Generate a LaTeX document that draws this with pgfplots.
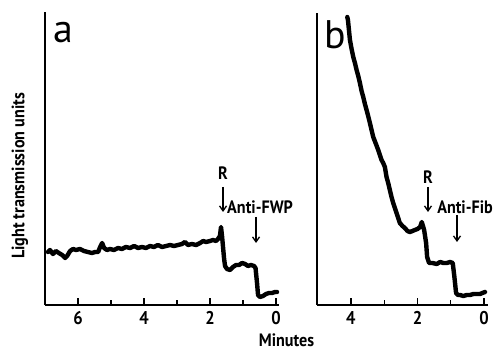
\documentclass[border=0pt]{standalone}
\usepackage{fontspec}
\setmainfont{PT Sans}
\newfontfamily\condfont{PT Sans}[FakeStretch=0.9]
\usepackage{pgfplots}
\usepackage{pgfplotstable}
\pgfplotsset{compat=1.18}
\usetikzlibrary{arrows.meta}

\pgfplotstableread{
min y
6.91 53
6.85 55
6.76 51
6.67 54
6.58 52
6.48 50
6.39 47
6.33 49
6.24 54
6.15 56
6.06 55
5.94 56
5.82 54
5.70 53
5.58 52
5.48 53
5.39 53
5.33 58
5.27 62
5.21 57
5.12 55
5.03 56
4.91 55
4.79 57
4.67 56
4.55 58
4.42 57
4.30 59
4.18 57
4.06 58
3.94 57
3.82 59
3.70 58
3.58 60
3.45 58
3.33 59
3.21 60
3.09 59
2.97 60
2.85 61
2.76 63
2.67 60
2.55 61
2.42 60
2.30 62
2.21 64
2.12 63
2.00 64
1.91 65
1.82 64
1.76 66
1.70 69
1.667 78
1.636 69
1.606 58
1.576 47
1.545 39
1.485 36
1.394 35
1.303 38
1.212 40
1.121 40
1.030 42
0.939 41
0.848 39
0.758 40
0.667 39
0.621 37
0.576 22
0.545 10
0.485 8
0.394 9
0.303 11
0.212 12
0.121 12
0.030 13
-0.03 13
}\traceA

\pgfplotstableread{
min y
4.11 288
4.09 285
4.03 265
3.98 256
3.93 248
3.88 242
3.83 235
3.78 229
3.73 222
3.68 214
3.63 208
3.58 201
3.53 195
3.49 190
3.46 186
3.43 182
3.38 175
3.33 168
3.26 162
3.18 155
3.13 150
3.08 145
3.03 142
2.98 138
2.93 128
2.88 122
2.83 115
2.78 108
2.73 102
2.68 97
2.63 92
2.58 87
2.53 82
2.45 79
2.38 77
2.30 74
2.23 73
2.15 74
2.08 75
2.00 76
1.92 78
1.87 83
1.80 75
1.74 62
1.71 48
1.65 42
1.55 42
1.42 41
1.32 43
1.22 42
1.12 42
1.02 43
0.94 42
0.89 28
0.84 12
0.78 10
0.72 10
0.62 9
0.52 10
0.42 10
0.32 11
0.22 11
0.12 11
0.05 12
-0.03 13
}\traceB

\pgfplotsset{
  panel/.style={
    scale only axis,
    anchor=south west,
    axis x line=bottom, axis y line=left,
    axis line style={line width=1.6bp, -},
    every outer x axis line/.append style={-},
    every outer y axis line/.append style={-},
    ymin=0,
    ytick=\empty,
    tick align=inside,
    major tick length=7bp, minor tick length=5bp,
    every tick/.style={line width=1.4bp, black},
    tick label style={font=\condfont\bfseries\fontsize{18.5}{18.5}\selectfont},
    xticklabel style={yshift=-3bp},
    clip=false,
  },
}
\tikzset{
  trace/.style={black, line width=4.4bp, line join=round, line cap=round},
  arr/.style={line width=1.3bp, -{Straight Barb[length=5bp,width=7bp]}},
  lab/.style={font=\condfont\bfseries\fontsize{18}{18}\selectfont, inner sep=0pt},
}

\begin{document}
\begin{tikzpicture}
\path[use as bounding box] (0bp,0bp) rectangle (494bp,351bp);

\begin{axis}[panel,
  at={(45bp,46bp)}, width=234bp, height=293bp,
  xmin=-7.0, xmax=0.09, ymin=0, ymax=293,
  xtick={-6,-4,-2,0}, xticklabels={6,4,2,0},
  minor xtick={-5,-3,-1},
  ylabel={\condfont\bfseries\fontsize{18}{18}\selectfont Light transmission units},
  ylabel style={at={(axis description cs:-0.107,0.44)}, anchor=center},
]
\addplot[trace] table[x expr=-\thisrow{min}, y=y] {\traceA};
\node[anchor=base west, inner sep=0pt, font=\fontsize{40}{40}\selectfont]
  at (axis description cs:0.036,0.895) {a};
\node[lab, anchor=center] at (axis cs:-1.606,132) {R};
\draw[arr] (axis cs:-1.606,118) -- (axis cs:-1.606,93);
\node[lab, anchor=west] at (axis cs:-1.485,98) {Anti-FWP};
\draw[arr] (axis cs:-0.606,88) -- (axis cs:-0.606,62);
\node[lab, anchor=center] at (axis description cs:1.032,-0.119) {Minutes};
\end{axis}

\begin{axis}[panel,
  at={(317bp,46bp)}, width=171bp, height=292bp,
  xmin=-5.02, xmax=0.12, ymin=0, ymax=292,
  xtick={-4,-2,0}, xticklabels={4,2,0},
  minor xtick={-3,-1},
]
\addplot[trace] table[x expr=-\thisrow{min}, y=y] {\traceB};
\node[anchor=base west, inner sep=0pt, font=\fontsize{40}{40}\selectfont]
  at (axis description cs:0.045,0.88) {b};
\node[lab, anchor=center] at (axis cs:-1.684,128) {R};
\draw[arr] (axis cs:-1.684,118) -- (axis cs:-1.684,93);
\node[lab, anchor=west] at (axis cs:-1.41,98) {Anti-Fib};
\draw[arr] (axis cs:-0.812,90) -- (axis cs:-0.812,63);
\end{axis}
\end{tikzpicture}
\end{document}
